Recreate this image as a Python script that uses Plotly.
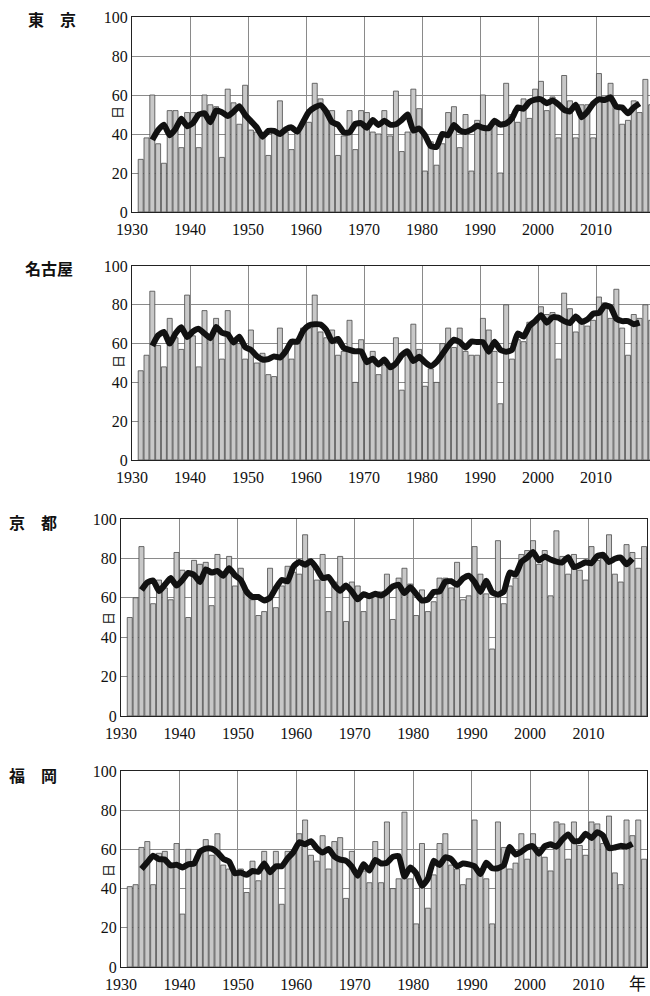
import plotly.graph_objects as go

W, H = 650, 996

years = list(range(1931, 2020))

tokyo = [27, 38, 60, 35, 25, 52, 52, 33, 51, 51, 33, 60, 55, 54, 28, 63, 56, 45, 65, 42,
         41, 40, 29, 41, 57, 41, 32, 41, 46, 46, 66, 58, 52, 52, 29, 39, 52, 32, 52, 51,
         41, 40, 52, 39, 62, 31, 41, 63, 53, 21, 36, 24, 35, 51, 54, 33, 50, 21, 47, 60,
         43, 45, 20, 66, 50, 46, 58, 48, 63, 67, 52, 59, 38, 70, 57, 38, 55, 55, 38, 71,
         59, 66, 53, 45, 47, 57, 51, 68, 55]

nagoya = [46, 54, 87, 59, 48, 73, 63, 57, 85, 64, 48, 77, 64, 73, 52, 77, 62, 60, 52, 67,
          50, 55, 44, 43, 68, 57, 52, 60, 68, 68, 85, 66, 63, 67, 54, 56, 72, 40, 62, 50,
          56, 44, 49, 47, 63, 36, 54, 70, 57, 38, 47, 40, 60, 68, 58, 68, 56, 54, 54, 73,
          67, 56, 29, 80, 52, 62, 61, 71, 72, 79, 75, 76, 52, 86, 78, 66, 71, 69, 72, 84,
          81, 73, 88, 68, 54, 75, 73, 80, 72]

kyoto = [50, 60, 86, 67, 57, 69, 65, 59, 83, 74, 50, 79, 77, 78, 56, 82, 71, 81, 66, 75,
         64, 59, 51, 53, 75, 55, 66, 76, 73, 72, 92, 78, 69, 82, 53, 68, 81, 48, 68, 66,
         53, 61, 61, 63, 72, 49, 70, 75, 67, 51, 64, 53, 58, 70, 70, 65, 78, 59, 61, 86,
         72, 62, 34, 89, 57, 66, 70, 82, 84, 89, 77, 84, 61, 94, 81, 72, 82, 74, 69, 86,
         79, 80, 92, 72, 68, 87, 83, 75, 86]

fukuoka = [41, 42, 61, 64, 42, 58, 59, 52, 63, 27, 60, 52, 60, 65, 57, 68, 52, 50, 49, 50,
           38, 54, 44, 59, 48, 59, 32, 59, 59, 68, 75, 57, 54, 67, 50, 64, 66, 35, 59, 47,
           49, 43, 64, 43, 74, 40, 45, 79, 45, 22, 63, 30, 47, 63, 68, 52, 50, 42, 45, 75,
           50, 45, 22, 74, 61, 50, 53, 68, 55, 68, 61, 56, 49, 74, 73, 55, 74, 62, 57, 74,
           73, 63, 77, 48, 42, 75, 67, 75, 55]

cities = ["東　京", "名古屋", "京　都", "福　岡"]
series = [tokyo, nagoya, kyoto, fukuoka]

x_ticks = [1930, 1940, 1950, 1960, 1970, 1980, 1990, 2000, 2010]
y_ticks = [0, 20, 40, 60, 80, 100]

# panel boxes in pixels: left, right, top, bottom, x-range end
panels = [
    (132, 650, 17, 212, 2019.3),
    (132, 650, 266, 460, 2019.3),
    (121, 647, 519, 716, 2020),
    (121, 647, 771, 967, 2020),
]
title_pos = [(52, 19), (49, 268), (33, 522), (33, 775)]
unit_pos = [(117, 113), (117, 362), (107, 619), (107, 871)]


def running_mean(vals, n=5):
    h = n // 2
    xs, ys = [], []
    for k in range(h, len(vals) - h):
        xs.append(years[k] + 0.5)
        ys.append(sum(vals[k - h:k + h + 1]) / n)
    return xs, ys


fig = go.Figure()
serif = "Liberation Serif, DejaVu Serif, serif"

for p, (vals, (l, r, t, b, xend)) in enumerate(zip(series, panels)):
    sfx = "" if p == 0 else str(p + 1)
    xa, ya = "x" + sfx, "y" + sfx
    fig.add_trace(go.Bar(
        x=[y + 0.5 for y in years], y=vals, width=0.86,
        marker=dict(color="#c8c8c8", line=dict(color="#4a4a4a", width=0.8)),
        xaxis=xa, yaxis=ya, showlegend=False, hoverinfo="skip"))
    mx, my = running_mean(vals)
    fig.add_trace(go.Scatter(
        x=mx, y=my, mode="lines", line=dict(color="#111111", width=6, shape="spline", smoothing=0.5),
        xaxis=xa, yaxis=ya, showlegend=False, hoverinfo="skip"))
    axis_common = dict(showline=True, linecolor="#222222", linewidth=1.3, mirror=True,
                       showgrid=True, gridcolor="#8a8a8a", gridwidth=1, zeroline=False,
                       automargin=False,
                       ticks="", tickfont=dict(family=serif, size=16, color="#111111"))
    fig.update_layout(**{
        ("xaxis" + sfx): dict(domain=[l / W, r / W], range=[1930, xend], tickvals=x_ticks,
                              anchor=ya, ticklabelstandoff=3, **axis_common),
        ("yaxis" + sfx): dict(domain=[1 - b / H, 1 - t / H], range=[0, 100], tickvals=y_ticks,
                              anchor=xa, **axis_common),
    })
    tx, ty = title_pos[p]
    fig.add_annotation(x=tx / W, y=1 - ty / H, xref="paper", yref="paper", text="<b>" + cities[p] + "</b>",
                       xanchor="center", yanchor="middle",
                       showarrow=False, font=dict(family="Noto Sans CJK JP", size=16, color="#111111"))
    ux, uy = unit_pos[p]
    fig.add_annotation(x=ux / W, y=1 - uy / H, xref="paper", yref="paper", text="日", textangle=-90,
                       xanchor="center", yanchor="middle",
                       showarrow=False, font=dict(family="Noto Sans CJK JP", size=13, color="#111111"))

fig.add_annotation(x=637 / W, y=1 - 982 / H, xref="paper", yref="paper", text="年",
                   xanchor="center", yanchor="middle",
                   showarrow=False, font=dict(family="Noto Sans CJK JP", size=17, color="#111111"))

fig.update_layout(width=W, height=H, margin=dict(l=0, r=0, t=0, b=0, autoexpand=False),
                  paper_bgcolor="white", plot_bgcolor="white", bargap=0.1)

fig.write_html("out.html", config={"displayModeBar": False},
               post_script="document.body.style.margin='0';document.body.style.padding='0';")
